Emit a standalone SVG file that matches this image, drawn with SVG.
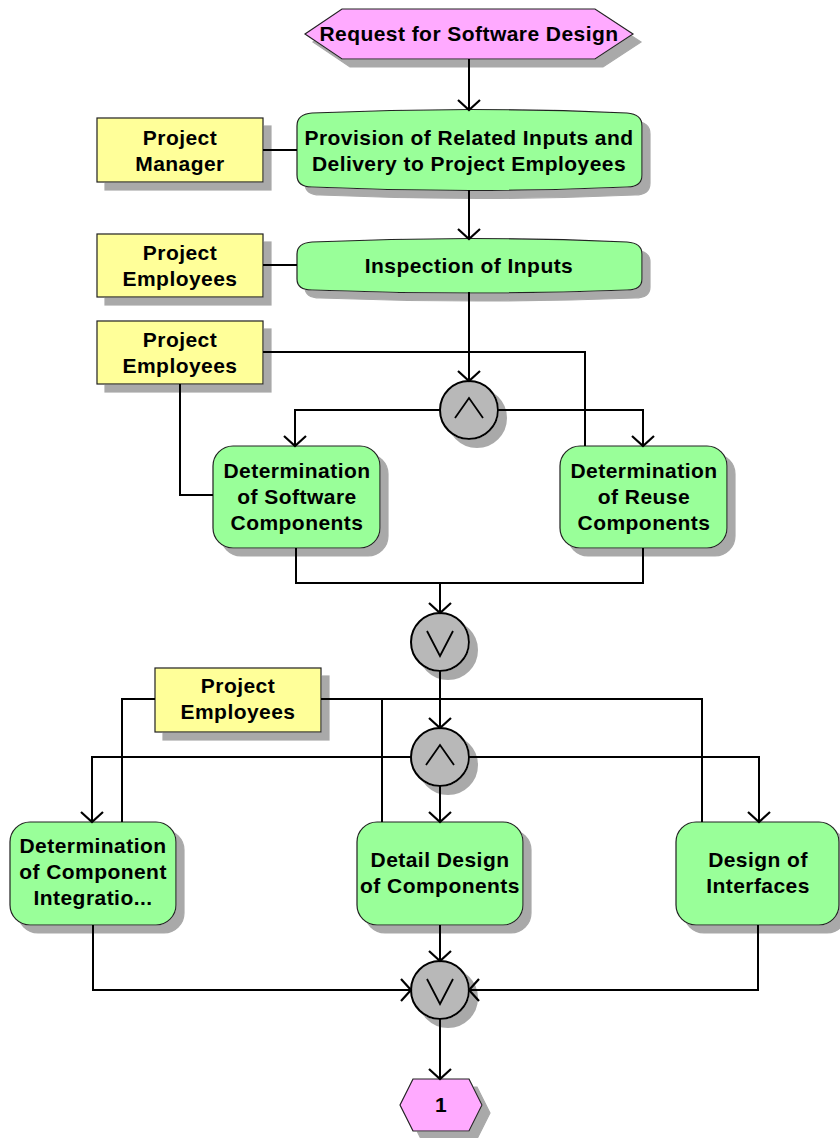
<svg xmlns="http://www.w3.org/2000/svg" width="840" height="1138" viewBox="0 0 840 1138">
  <defs>
    <style>
      .txt { font-family: "Liberation Sans", Arial, sans-serif; font-weight: bold; font-size: 21px; letter-spacing: 0.45px; fill: #000; text-anchor: middle; }
      .event { fill: #ffaaff; stroke: #222; stroke-width: 1.2; filter: url(#shadow); }
      .func { fill: #99ff99; stroke: #222; stroke-width: 1.2; filter: url(#shadow); }
      .org { fill: #ffff99; stroke: #222; stroke-width: 1.2; filter: url(#shadow); }
      .gate { fill: #b8b8b8; stroke: #000; stroke-width: 2; filter: url(#shadow); }
      .sym { fill: none; stroke: #000; stroke-width: 1.8; }
      .conn { fill: none; stroke: #000; stroke-width: 2; }
      .flow { marker-end: url(#open); }
    </style>
    <filter id="shadow" x="-10%" y="-10%" width="130%" height="140%">
      <feOffset in="SourceAlpha" dx="8" dy="8" result="off"/>
      <feFlood flood-color="#a9a9a9"/>
      <feComposite in2="off" operator="in" result="sh"/>
      <feMerge>
        <feMergeNode in="sh"/>
        <feMergeNode in="SourceGraphic"/>
      </feMerge>
    </filter>
    <marker id="open" markerUnits="userSpaceOnUse" markerWidth="30" markerHeight="30" refX="0" refY="0" viewBox="-15 -15 30 30" orient="auto" overflow="visible">
      <path d="M-10,-11 L0,0 L-10,11" fill="none" stroke="#000" stroke-width="2.2"/>
    </marker>
  </defs>

  <!-- events -->
  <g id="ev-request">
    <polygon class="event" points="305,34 342,9 595,9 633,34 595,59 342,59"/>
    <text class="txt" x="469" y="41">Request for Software Design</text>
  </g>
  <g id="ev-end">
    <polygon class="event" points="400,1105 413,1079 469,1079 482,1105 469,1131 413,1131"/>
    <text class="txt" x="441" y="1112">1</text>
  </g>

  <!-- functions -->
  <g id="fn-provision">
    <path class="func" d="M297,126 Q297,114 312,113 Q470,106 627,113 Q642,114 642,126 V175 Q642,187 627,187 Q470,194 312,187 Q297,187 297,175 Z"/>
    <text class="txt" x="469" y="145">Provision of Related Inputs and</text>
    <text class="txt" x="469" y="171">Delivery to Project Employees</text>
  </g>
  <g id="fn-inspection">
    <path class="func" d="M297,254 Q297,243 312,242 Q470,235 627,242 Q642,243 642,254 V279 Q642,290 627,290 Q470,296 312,290 Q297,290 297,279 Z"/>
    <text class="txt" x="469" y="273">Inspection of Inputs</text>
  </g>
  <g id="fn-software">
    <rect class="func" x="213" y="446" width="167" height="102" rx="20" ry="20"/>
    <text class="txt" x="297" y="478">Determination</text>
    <text class="txt" x="297" y="504">of Software</text>
    <text class="txt" x="297" y="530">Components</text>
  </g>
  <g id="fn-reuse">
    <rect class="func" x="560" y="446" width="167" height="102" rx="20" ry="20"/>
    <text class="txt" x="644" y="478">Determination</text>
    <text class="txt" x="644" y="504">of Reuse</text>
    <text class="txt" x="644" y="530">Components</text>
  </g>
  <g id="fn-integration">
    <rect class="func" x="10" y="822" width="166" height="103" rx="20" ry="20"/>
    <text class="txt" x="93" y="853">Determination</text>
    <text class="txt" x="93" y="879">of Component</text>
    <text class="txt" x="93" y="905">Integratio...</text>
  </g>
  <g id="fn-detail">
    <rect class="func" x="357" y="822" width="166" height="103" rx="20" ry="20"/>
    <text class="txt" x="440" y="867">Detail Design</text>
    <text class="txt" x="440" y="893">of Components</text>
  </g>
  <g id="fn-interfaces">
    <rect class="func" x="676" y="822" width="163" height="103" rx="20" ry="20"/>
    <text class="txt" x="758" y="867">Design of</text>
    <text class="txt" x="758" y="893">Interfaces</text>
  </g>

  <!-- organisational units -->
  <g id="org-manager">
    <rect class="org" x="97" y="118" width="166" height="64"/>
    <text class="txt" x="180" y="145">Project</text>
    <text class="txt" x="180" y="171">Manager</text>
  </g>
  <g id="org-employees-1">
    <rect class="org" x="97" y="234" width="166" height="63"/>
    <text class="txt" x="180" y="260">Project</text>
    <text class="txt" x="180" y="286">Employees</text>
  </g>
  <g id="org-employees-2">
    <rect class="org" x="97" y="321" width="166" height="63"/>
    <text class="txt" x="180" y="347">Project</text>
    <text class="txt" x="180" y="373">Employees</text>
  </g>
  <g id="org-employees-3">
    <rect class="org" x="155" y="668" width="166" height="64"/>
    <text class="txt" x="238" y="693">Project</text>
    <text class="txt" x="238" y="719">Employees</text>
  </g>

  <!-- rules -->
  <g id="and-split-1">
    <circle class="gate" cx="469" cy="410" r="29"/>
    <polyline class="sym" points="455,418 469,398 483,418"/>
  </g>
  <g id="or-join-1">
    <circle class="gate" cx="440" cy="642" r="29"/>
    <polyline class="sym" points="427,631 440,656 453,631"/>
  </g>
  <g id="and-split-2">
    <circle class="gate" cx="440" cy="757" r="29"/>
    <polyline class="sym" points="426,765 440,745 454,765"/>
  </g>
  <g id="or-join-2">
    <circle class="gate" cx="440" cy="990" r="29"/>
    <polyline class="sym" points="427,979 440,1004 453,979"/>
  </g>

  <!-- connectors, drawn on top so arrowheads overlap the shapes -->
  <g id="connectors">
    <path class="conn flow" d="M469,59 V110"/>
    <path class="conn" d="M263,150 H297"/>
    <path class="conn flow" d="M469,190 V239"/>
    <path class="conn" d="M263,265 H297"/>
    <path class="conn flow" d="M469,292 V381"/>
    <path class="conn" d="M263,352 H585 V446"/>
    <path class="conn" d="M180,384 V495 H213"/>
    <path class="conn flow" d="M440,410 H295 V446"/>
    <path class="conn flow" d="M498,410 H643 V446"/>
    <path class="conn" d="M296,548 V583 H643 V548"/>
    <path class="conn flow" d="M440,583 V613"/>
    <path class="conn flow" d="M440,671 V728"/>
    <path class="conn" d="M155,699 H122 V822"/>
    <path class="conn" d="M321,699 H702 V822"/>
    <path class="conn" d="M382,699 V822"/>
    <path class="conn flow" d="M411,757 H92 V822"/>
    <path class="conn flow" d="M469,757 H759 V822"/>
    <path class="conn flow" d="M440,786 V822"/>
    <path class="conn flow" d="M93,925 V990 H411"/>
    <path class="conn flow" d="M440,925 V961"/>
    <path class="conn flow" d="M758,925 V990 H469"/>
    <path class="conn flow" d="M440,1019 V1079"/>
  </g>
</svg>
